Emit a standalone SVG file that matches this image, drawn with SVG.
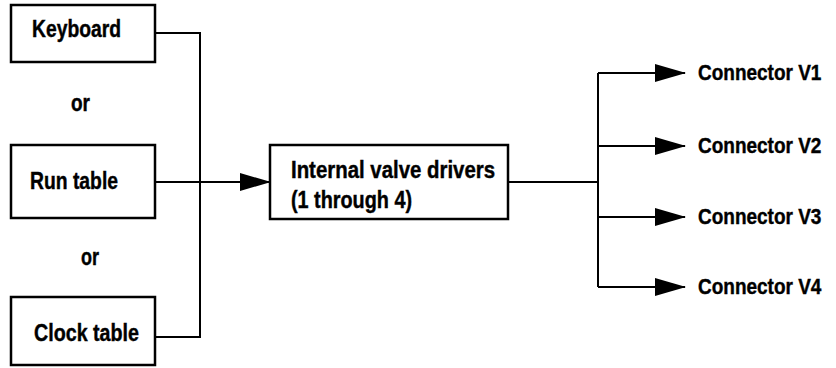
<svg xmlns="http://www.w3.org/2000/svg" width="836" height="368" viewBox="0 0 836 368">
<style>
.box{fill:#fff;stroke:#000;stroke-width:2.5}
.ln{fill:none;stroke:#000;stroke-width:2}
.t{font-family:"Liberation Sans",Arial,sans-serif;font-weight:bold;font-size:23px;fill:#000;stroke:#000;stroke-width:0.4}
.c{font-family:"Liberation Sans",Arial,sans-serif;font-weight:bold;font-size:19px;fill:#000;stroke:#000;stroke-width:0.35}
</style>
<defs>
<marker id="ah" markerWidth="31" markerHeight="18" refX="30" refY="9" orient="auto" markerUnits="userSpaceOnUse">
<path d="M0,0 L31,9 L0,18 Z" fill="#000"/>
</marker>
</defs>
<rect width="836" height="368" fill="#fff"/>
<g id="keyboard">
<rect class="box" x="11" y="5" width="144" height="57"/>
<text class="t" x="32" y="37" textLength="89" lengthAdjust="spacingAndGlyphs">Keyboard</text>
</g>
<g id="or1"><text class="t" x="71" y="111" textLength="19" lengthAdjust="spacingAndGlyphs">or</text></g>
<g id="runtable">
<rect class="box" x="11" y="145" width="144" height="73"/>
<text class="t" x="30" y="189" textLength="88" lengthAdjust="spacingAndGlyphs">Run table</text>
</g>
<g id="or2"><text class="t" x="81" y="265" textLength="18" lengthAdjust="spacingAndGlyphs">or</text></g>
<g id="clocktable">
<rect class="box" x="11" y="297" width="144" height="68"/>
<text class="t" x="34" y="341" textLength="105" lengthAdjust="spacingAndGlyphs">Clock table</text>
</g>
<g id="drivers">
<rect class="box" x="270" y="145" width="238" height="74"/>
<text class="t" x="291" y="178" textLength="204" lengthAdjust="spacingAndGlyphs">Internal valve drivers</text>
<text class="t" x="291" y="208" textLength="121" lengthAdjust="spacingAndGlyphs">(1 through 4)</text>
</g>
<g id="v1"><text class="c" transform="translate(698,80) scale(1,1.2)">Connector V1</text></g>
<g id="v2"><text class="c" transform="translate(698,153) scale(1,1.2)">Connector V2</text></g>
<g id="v3"><text class="c" transform="translate(698,224) scale(1,1.2)">Connector V3</text></g>
<g id="v4"><text class="c" transform="translate(698,294) scale(1,1.2)">Connector V4</text></g>
<g id="connectors">
<path class="ln" d="M155,33 H200 V337 H155"/>
<path class="ln" d="M155,182 H270" marker-end="url(#ah)"/>
<path class="ln" d="M508,182 H598"/>
<path class="ln" d="M598,73 V287"/>
<path class="ln" d="M598,73 H685" marker-end="url(#ah)"/>
<path class="ln" d="M598,146 H685" marker-end="url(#ah)"/>
<path class="ln" d="M598,217 H685" marker-end="url(#ah)"/>
<path class="ln" d="M598,287 H685" marker-end="url(#ah)"/>
</g>
</svg>
